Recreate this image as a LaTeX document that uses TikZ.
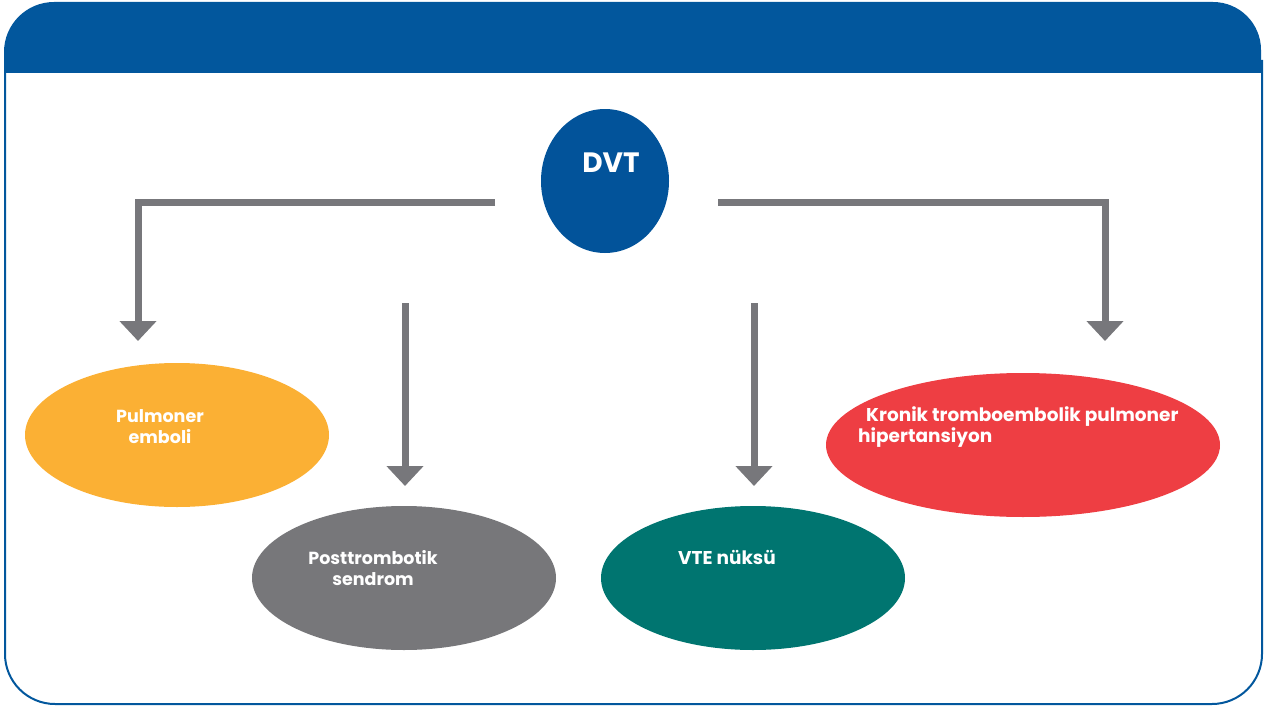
\documentclass[tikz,border=0pt]{standalone}
\usepackage{fontspec}
\setmainfont{Poppins}
\usetikzlibrary{shapes.geometric,arrows.meta}
\definecolor{hdrblue}{HTML}{02579D}
\definecolor{dvtblue}{HTML}{02539A}
\definecolor{arrgray}{HTML}{77777B}
\definecolor{orangec}{HTML}{FBB034}
\definecolor{grayc}{HTML}{77777A}
\definecolor{tealc}{HTML}{007570}
\definecolor{redc}{HTML}{EE3E43}
\tikzset{
  lbl/.style={text=white, font=\bfseries\fontsize{17.5}{21}\selectfont, align=left, inner sep=0pt},
  conn/.style={draw=arrgray, line width=7pt, -{Triangle[width=36pt,length=20pt]}},
}
\begin{document}
\begin{tikzpicture}[x=1pt,y=-1pt]
\useasboundingbox (0,0) rectangle (1269,709);
% frame
\fill[hdrblue] (4,73) -- (4,52) arc[start angle=180,end angle=270,radius=50] -- (1213,2) arc[start angle=270,end angle=360,radius=48] -- (1261,73) -- cycle;
\draw[hdrblue, line width=2pt] (5,60) -- (5,654) arc[start angle=180,end angle=90,radius=50] -- (1212,704) arc[start angle=90,end angle=0,radius=50] -- (1262,60);
% DVT
\fill[dvtblue] (605,181) ellipse[x radius=64, y radius=72];
\node[lbl, font=\bfseries\fontsize{28}{30}\selectfont] (dvt) at (611,163) {DVT};
% ellipses
\fill[orangec] (177,435) ellipse[x radius=152, y radius=72];
\fill[grayc] (404,578) ellipse[x radius=152, y radius=72];
\fill[tealc] (753,578) ellipse[x radius=152, y radius=72];
\fill[redc] (1023,445) ellipse[x radius=197, y radius=72];
\node[lbl, align=center] (pet) at (160,427) {Pulmoner\\emboli};
\node[lbl, align=center] (ptst) at (373,568) {Posttrombotik\\sendrom};
\node[lbl, font=\bfseries\fontsize{18.5}{21}\selectfont] (vtet) at (727,557) {VTE nüksü};
\node[lbl, anchor=west, font=\bfseries\fontsize{18.5}{21}\selectfont] (krt) at (858,427) {\hspace*{8pt}Kronik tromboembolik pulmoner\\hipertansiyon};
% connectors
\coordinate (l0) at (495,202);
\coordinate (l1) at (138,202);
\coordinate (l2) at (138,341);
\coordinate (r0) at (718,202);
\coordinate (r1) at (1105,202);
\coordinate (r2) at (1105,341);
\coordinate (m1a) at (405,303);
\coordinate (m1b) at (405,486);
\coordinate (m2a) at (754,303);
\coordinate (m2b) at (754,486);
\draw[conn] (l0) -- (l1) -- (l2);
\draw[conn] (r0) -- (r1) -- (r2);
\draw[conn] (m1a) -- (m1b);
\draw[conn] (m2a) -- (m2b);
\end{tikzpicture}
\end{document}
